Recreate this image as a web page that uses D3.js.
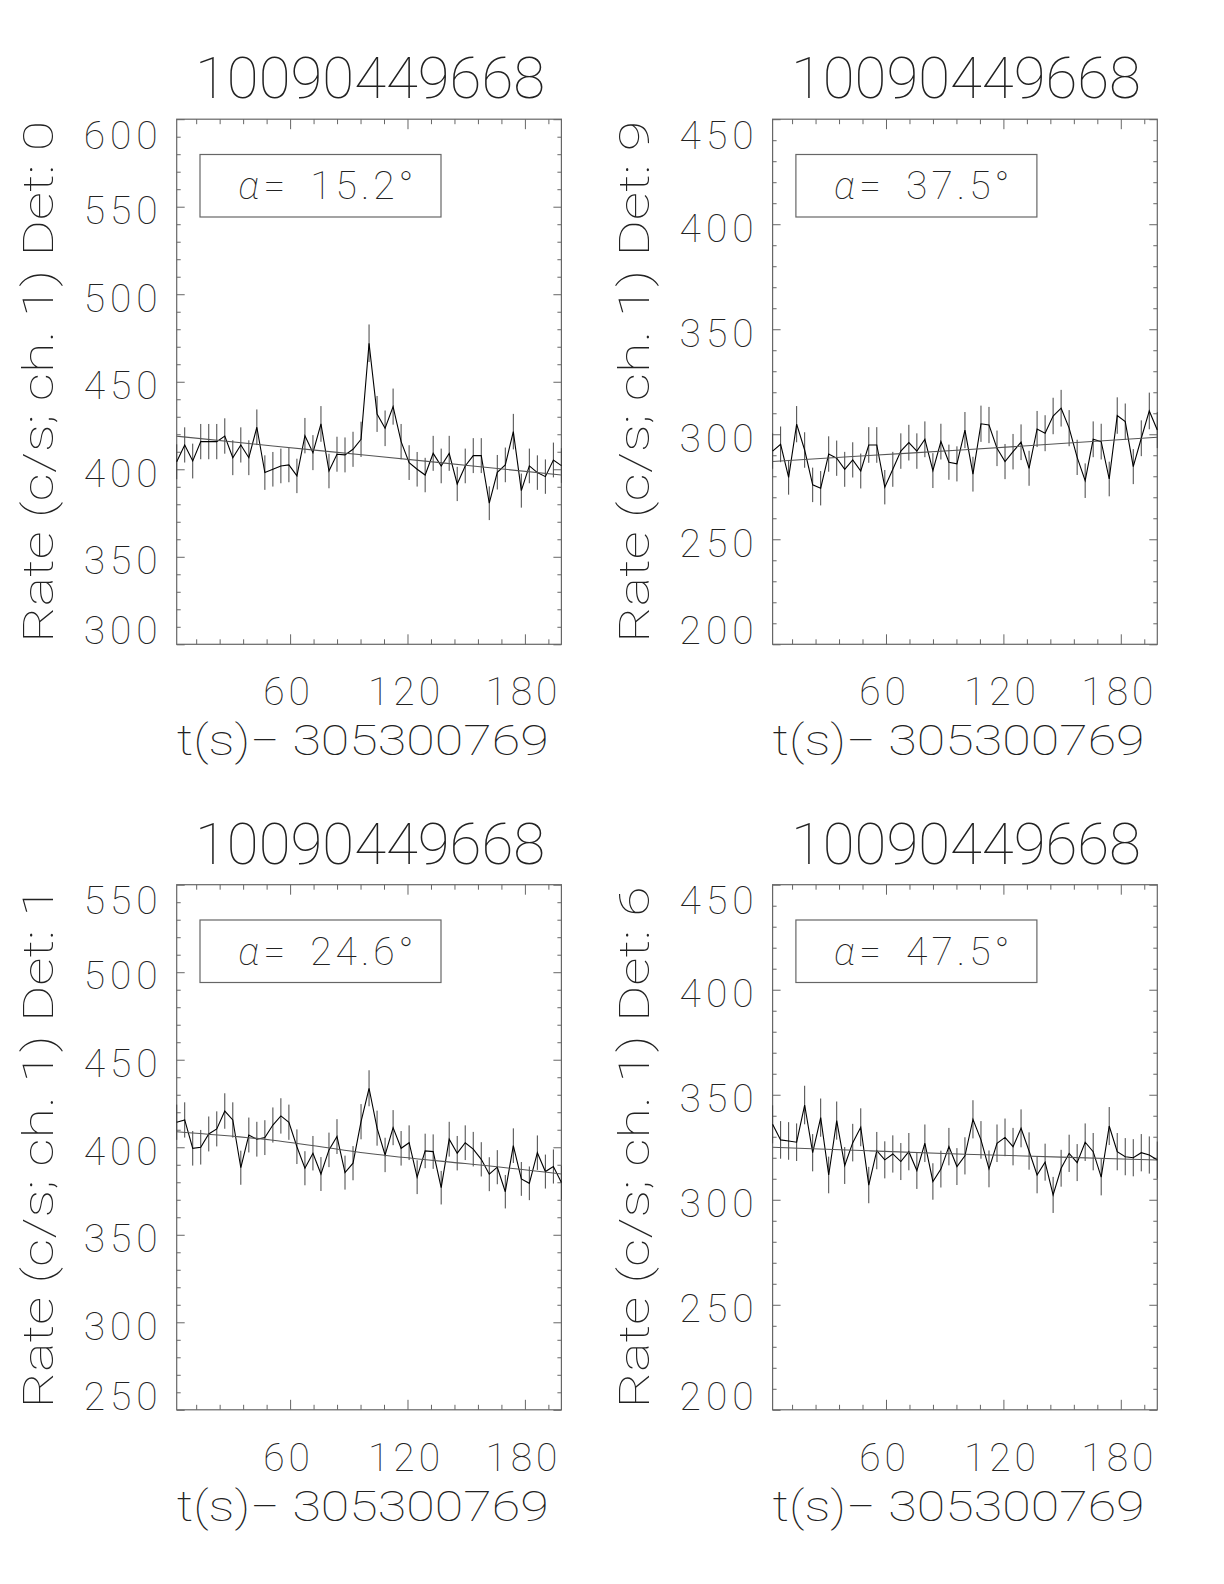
<!DOCTYPE html>
<html>
<head>
<meta charset="utf-8">
<script src="https://cdn.jsdelivr.net/npm/d3@7/dist/d3.min.js"></script>
<style>
  html, body { margin: 0; padding: 0; background: #fff; }
  svg { display: block; }
  text { font-family: "Roboto", "DejaVu Sans", sans-serif; font-weight: 100; fill: #222; }
</style>
</head>
<body>
<svg id="chart" width="1224" height="1584"></svg>
<script>
// ---------------- data ----------------
const burstId = "10090449668";
const xAxisTitle = "t(s)\u2212 305300769";
const detectors = ["0", "9", "1", "6"];
const alphaDeg = ["15.2", "37.5", "24.6", "47.5"];
const timeStart = 2.048;   // s, centre of first bin
const binWidth = 4.096;    // s
const xTicksMajor = [60, 120, 180];
const xTicksMinor = [12, 24, 36, 48, 72, 84, 96, 108, 132, 144, 156, 168, 192];

const yDomainDet0 = [300, 600];
const yDomainDet9 = [200, 450];
const yDomainDet1 = [250, 550];
const yDomainDet6 = [200, 450];

const rateDet0 = [404.3, 413.9, 404.7, 415.8, 415.8, 415.8, 419.0, 406.6, 413.9, 406.6,
  424.0, 398.1, 400.0, 401.9, 402.5, 396.2, 419.2, 409.5, 425.9, 399.0,
  408.6, 408.2, 411.4, 417.1, 472.0, 431.6, 423.4, 435.8, 415.8, 403.8,
  400.0, 396.7, 409.1, 401.9, 409.1, 391.6, 401.9, 407.8, 407.8, 380.6,
  398.3, 402.5, 421.5, 387.8, 401.9, 398.1, 395.8, 405.3, 402.1];
const rateDet9 = [292.0, 295.2, 279.5, 304.8, 292.5, 275.9, 274.3, 290.6, 288.6, 283.3,
  287.8, 282.5, 294.9, 294.9, 274.8, 283.3, 292.0, 296.0, 292.0, 297.6,
  282.7, 296.5, 286.7, 285.9, 302.0, 281.0, 305.0, 304.4, 293.3, 287.0,
  291.7, 296.2, 283.8, 302.5, 300.5, 308.7, 312.4, 302.9, 289.0, 277.9,
  297.6, 296.5, 278.7, 308.9, 306.0, 284.6, 298.1, 311.1, 302.0];
const rateDet1 = [414.3, 415.6, 399.4, 400.0, 407.6, 410.5, 420.7, 415.6, 388.3, 407.0,
  404.6, 405.5, 412.7, 417.9, 414.3, 400.3, 388.0, 396.6, 384.7, 398.5,
  406.1, 385.5, 390.9, 414.6, 433.7, 410.9, 395.6, 411.2, 399.4, 402.6,
  382.9, 397.9, 397.5, 376.9, 404.6, 396.6, 402.6, 398.9, 393.1, 384.6,
  388.6, 374.6, 400.9, 381.9, 379.4, 396.9, 386.1, 389.0, 379.8];
const rateDet6 = [335.9, 328.5, 328.0, 327.4, 345.1, 322.4, 339.1, 311.8, 337.7, 316.3,
  327.2, 334.5, 307.0, 323.4, 319.0, 321.8, 318.2, 322.9, 313.9, 326.9,
  308.7, 314.6, 325.3, 315.8, 320.9, 338.3, 328.5, 314.7, 326.9, 329.7,
  325.3, 334.0, 323.2, 311.8, 317.9, 302.3, 315.0, 322.1, 317.7, 327.4,
  322.9, 310.8, 335.1, 322.9, 320.5, 320.0, 322.4, 321.3, 318.9];

// background fit, sampled at bins 0, 12, 24, 36, 48
const bgKnotBins = [0, 12, 24, 36, 48];
const bgDet0 = [418.9, 413.3, 407.9, 402.3, 396.7];
const bgDet9 = [287.0, 289.9, 292.6, 295.6, 298.6];
const bgDet1 = [408.9, 404.0, 396.4, 390.7, 384.7];
const bgDet6 = [325.0, 323.3, 321.7, 320.3, 318.9];

// ---------------- layout ----------------
const panels = [
  { x0: 176.7, y0: 119.2, rate: rateDet0, bg: bgDet0, dom: yDomainDet0, det: detectors[0], alpha: alphaDeg[0] },
  { x0: 772.6, y0: 119.2, rate: rateDet9, bg: bgDet9, dom: yDomainDet9, det: detectors[1], alpha: alphaDeg[1] },
  { x0: 176.7, y0: 884.7, rate: rateDet1, bg: bgDet1, dom: yDomainDet1, det: detectors[2], alpha: alphaDeg[2] },
  { x0: 772.6, y0: 884.7, rate: rateDet6, bg: bgDet6, dom: yDomainDet6, det: detectors[3], alpha: alphaDeg[3] }
];
const W = 384.7, H = 525.1;
const svg = d3.select("#chart");

panels.forEach(p => {
  const n = p.rate.length;
  const times = d3.range(n).map(i => timeStart + i * binWidth);
  const x = d3.scaleLinear().domain([timeStart, timeStart + (n - 1) * binWidth]).range([0, W]);
  const y = d3.scaleLinear().domain(p.dom).range([H, 0]);
  const g = svg.append("g").attr("transform", `translate(${p.x0},${p.y0})`);

  const yMajor = d3.range(p.dom[0], p.dom[1] + 0.1, 50);
  const yMinor = d3.range(p.dom[0], p.dom[1] + 0.1, 10).filter(v => v % 50 !== 0);

  const axStyle = sel => {
    sel.select(".domain").remove();
    sel.selectAll("line").attr("stroke", "#666").attr("stroke-width", 1);
  };

  const yl = g.append("g").call(d3.axisLeft(y).tickValues(yMajor).tickSize(-8).tickPadding(14).tickFormat(d3.format("d")));
  axStyle(yl);
  yl.selectAll("text").attr("font-size", 39).attr("fill", "#222")
    .attr("font-family", null).style("letter-spacing", "5px")
    .attr("dy", d => d === p.dom[1] ? "0.74em" : (d === p.dom[0] ? "-0.02em" : "0.43em"));
  g.append("g").call(d3.axisLeft(y).tickValues(yMinor).tickSize(-4).tickFormat("")).call(axStyle);
  g.append("g").attr("transform", `translate(${W},0)`)
    .call(d3.axisRight(y).tickValues(yMajor).tickSize(-8).tickFormat("")).call(axStyle);
  g.append("g").attr("transform", `translate(${W},0)`)
    .call(d3.axisRight(y).tickValues(yMinor).tickSize(-4).tickFormat("")).call(axStyle);

  const xb = g.append("g").attr("transform", `translate(0,${H})`)
    .call(d3.axisBottom(x).tickValues(xTicksMajor).tickSize(-10).tickFormat(d3.format("d")));
  axStyle(xb);
  xb.selectAll("text").attr("font-size", 39).attr("fill", "#222").attr("font-family", null)
    .style("letter-spacing", "4px")
    .attr("y", 61).attr("dy", 0).attr("dx", -2);
  g.append("g").attr("transform", `translate(0,${H})`)
    .call(d3.axisBottom(x).tickValues(xTicksMinor).tickSize(-5).tickFormat("")).call(axStyle);
  g.append("g").call(d3.axisTop(x).tickValues(xTicksMajor).tickSize(-10).tickFormat("")).call(axStyle);
  g.append("g").call(d3.axisTop(x).tickValues(xTicksMinor).tickSize(-5).tickFormat("")).call(axStyle);

  g.append("rect").attr("x", 0).attr("y", 0).attr("width", W).attr("height", H)
    .attr("fill", "none").attr("stroke", "#666").attr("stroke-width", 1.2);

  g.append("g").selectAll("line").data(p.rate).join("line")
    .attr("x1", (d, i) => x(times[i])).attr("x2", (d, i) => x(times[i]))
    .attr("y1", d => y(d - Math.sqrt(d / binWidth)))
    .attr("y2", d => y(d + Math.sqrt(d / binWidth)))
    .attr("stroke", "#444").attr("stroke-width", 1);

  g.append("path").datum(p.rate)
    .attr("d", d3.line().x((d, i) => x(times[i])).y(d => y(d)))
    .attr("fill", "none").attr("stroke", "#000").attr("stroke-width", 1.1);

  g.append("path").datum(p.bg)
    .attr("d", d3.line().curve(d3.curveNatural)
      .x((d, i) => x(timeStart + bgKnotBins[i] * binWidth)).y(d => y(d)))
    .attr("fill", "none").attr("stroke", "#555").attr("stroke-width", 1.1);

  g.append("rect").attr("x", 23.3).attr("y", 35.3).attr("width", 241).attr("height", 62.5)
    .attr("fill", "none").attr("stroke", "#666").attr("stroke-width", 1.2);
  const at = g.append("text").attr("x", 61.5).attr("y", 80).attr("font-size", 39)
    .style("letter-spacing", "4px");
  at.append("tspan").attr("font-style", "italic").text("\u03b1");
  at.append("tspan").text("=");
  at.append("tspan").attr("dx", 21).text(p.alpha + "\u00b0");

  g.append("text").attr("x", W / 2 + 1).attr("y", -21).attr("text-anchor", "middle")
    .attr("font-size", 58).attr("textLength", 350).attr("lengthAdjust", "spacingAndGlyphs")
    .text(burstId);

  g.append("text").attr("x", 186).attr("y", 636).attr("text-anchor", "middle")
    .attr("font-size", 42).attr("textLength", 372).attr("lengthAdjust", "spacingAndGlyphs")
    .text(xAxisTitle);

  g.append("text").attr("transform", `translate(-124,${H / 2}) rotate(-90)`)
    .attr("text-anchor", "middle").attr("font-size", 43)
    .attr("textLength", 522).attr("lengthAdjust", "spacingAndGlyphs")
    .text("Rate (c/s; ch. 1) Det: " + p.det);
});
</script>
</body>
</html>
